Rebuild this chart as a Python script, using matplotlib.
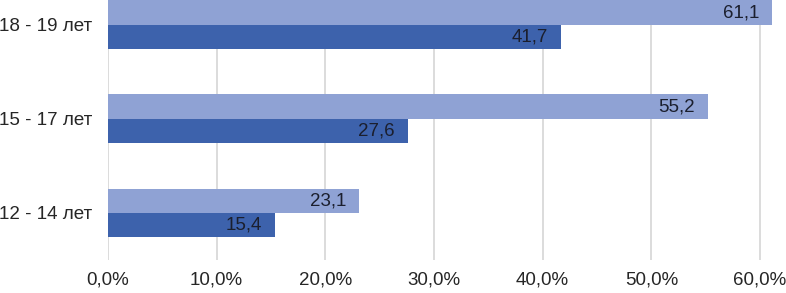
import matplotlib
matplotlib.use("Agg")
import matplotlib.pyplot as plt
import numpy as np

categories = ["12 - 14 лет", "15 - 17 лет", "18 - 19 лет"]
series_light = [23.1, 55.2, 61.1]
series_dark = [15.4, 27.6, 41.7]
xticks = [0, 10, 20, 30, 40, 50, 60]
xtick_labels = ["0,0%", "10,0%", "20,0%", "30,0%", "40,0%", "50,0%", "60,0%"]

plt.rcParams['font.family'] = ['Liberation Sans', 'DejaVu Sans']

fig = plt.figure(figsize=(7.86, 2.93), dpi=100)
px_per_unit = (760 - 108) / 60
ax = fig.add_axes([108/786, 1 - 260/293, (786-108)/786, 260/293])

y = np.arange(len(categories))
h = 0.26
light_c = "#8FA2D4"
dark_c = "#3D62AC"
b1 = ax.barh(y + h/2, series_light, height=h, color=light_c, zorder=2)
b2 = ax.barh(y - h/2, series_dark, height=h, color=dark_c, zorder=2)

for bars, vals in ((b1, series_light), (b2, series_dark)):
    for bar, v in zip(bars, vals):
        ax.text(v - 1.2, bar.get_y() + bar.get_height()/2,
                f"{v:.1f}".replace(".", ","), ha="right", va="center",
                fontsize=13.5, color="#1b1f2e", zorder=3)

ax.set_xlim(0, (786 - 108) / px_per_unit)
ax.set_ylim(-0.5, 2 + 25/94.5)
ax.set_xticks(xticks)
ax.set_xticklabels(xtick_labels, fontsize=13.5, color="#262626")
ax.set_yticks(y)
ax.set_yticklabels(categories, fontsize=13.5, color="#262626")
ax.tick_params(axis="both", length=0)
ax.tick_params(axis="x", pad=8)
ax.tick_params(axis="y", pad=11)
ax.xaxis.grid(True, color="#d9d9d9", linewidth=1.3, zorder=0)
ax.set_axisbelow(True)
for s in ax.spines.values():
    s.set_visible(False)

fig.savefig("out.png", dpi=100)
